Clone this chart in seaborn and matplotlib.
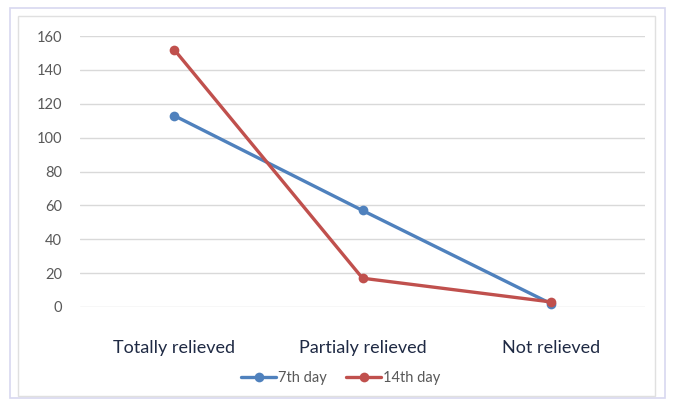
import pandas as pd
import matplotlib.pyplot as plt
import seaborn as sns
from matplotlib.patches import Rectangle

categories = ["Totally relieved", "Partialy relieved", "Not relieved"]
day7 = [113, 57, 2]
day14 = [152, 17, 3]
series_names = ["7th day", "14th day"]

df = pd.DataFrame({
    "x": [0, 1, 2] * 2,
    "value": day7 + day14,
    "series": [series_names[0]] * 3 + [series_names[1]] * 3,
})

sns.set_style("white")
plt.rcParams['font.family'] = ['Lato', 'DejaVu Sans']

fig = plt.figure(figsize=(6.75, 4.01), dpi=100)
ax = fig.add_axes([80 / 675, 1 - 307 / 401, (645 - 80) / 675, (307 - 36) / 401])

sns.lineplot(data=df, x="x", y="value", hue="series", marker="o",
             palette=["#4F81BD", "#C0504D"], linewidth=2.4, markersize=7,
             markeredgewidth=0, ax=ax, legend=False, clip_on=False)

ax.set_xlim(-0.5, 2.5)
ax.set_ylim(0, 160)
ax.set_yticks(range(0, 161, 20))
ax.grid(axis="y", color="#D9D9D9", linewidth=1)
ax.set_axisbelow(True)
for s in ax.spines.values():
    s.set_visible(False)
ax.set_xticks([0, 1, 2])
ax.set_xticklabels([])
ax.tick_params(axis="y", labelsize=10.5, colors="#595959", length=0, pad=13)
ax.tick_params(axis="x", length=0)
ax.set_xlabel("")
ax.set_ylabel("")

for i, c in enumerate(categories):
    ax.text(i, -0.152, c, transform=ax.get_xaxis_transform(), ha="center",
            va="center", fontsize=13, color="#1F2A44")

# legend
h1, = ax.plot([], [], color="#4F81BD", lw=2.4, marker="o", ms=7, mew=0)
h2, = ax.plot([], [], color="#C0504D", lw=2.4, marker="o", ms=7, mew=0)
fig.legend([h1, h2], series_names, loc="center", bbox_to_anchor=(0.505, 1 - 378 / 401),
           ncol=2, frameon=False, fontsize=10.5, labelcolor="#595959",
           handlelength=2.4, columnspacing=1.3, handletextpad=0.15)

# chart frame
fig.patches.append(Rectangle((10 / 675, 1 - 398 / 401), 655 / 675, 390 / 401,
                             transform=fig.transFigure, fill=False,
                             edgecolor="#D8D8F0", lw=1.2))
fig.patches.append(Rectangle((18 / 675, 1 - 396 / 401), 637 / 675, 380 / 401,
                             transform=fig.transFigure, fill=False,
                             edgecolor="#E0E0E0", lw=1))

fig.savefig("out.png", dpi=100)
